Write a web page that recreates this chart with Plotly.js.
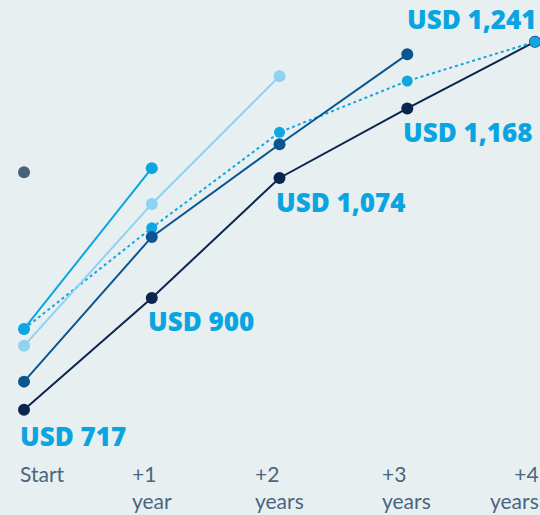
<!DOCTYPE html>
<html>
<head>
<meta charset="utf-8">
<script src="https://cdn.plot.ly/plotly-3.0.1.min.js"></script>
<style>html,body{margin:0;padding:0;background:#e7eff1;}#chart{width:540px;height:515px;}</style>
</head>
<body>
<div id="chart"></div>
<script>
// Categories (period index) and tick labels
const periods = [0, 1, 2, 3, 4];
const tickLabels = ["Start", "+1<br>year", "+2<br>years", "+3<br>years", "+4<br>years"];

// Series values (USD)
const seriesGrey   = [1055];
const seriesBright = [832, 1061];
const seriesLight  = [808, 1010, 1192];
const seriesMedium = [757, 963, 1095, 1223];
const seriesDotted = [832, 976, 1112, 1185, 1241];
const seriesNavy   = [717, 876, 1047, 1146, 1241];

// Labels on the navy series
const navyLabels = ["USD 717", "USD 900", "USD 1,074", "USD 1,168", "USD 1,241"];

const mk = (vals, color, opts = {}) => ({
  x: periods.slice(0, vals.length),
  y: vals,
  type: 'scatter',
  mode: vals.length > 1 ? 'lines+markers' : 'markers',
  line: {color: color, width: 2, dash: opts.dash || 'solid'},
  marker: {color: color, size: opts.size || 12},
  cliponaxis: false,
  hoverinfo: 'skip'
});

const data = [
  mk(seriesNavy, '#0b2550'),
  mk(seriesDotted, '#12a6e0', {dash: 'dot', size: 11}),
  mk(seriesMedium, '#0b5692'),
  mk(seriesLight, '#8ed2f2'),
  mk(seriesBright, '#09a6e2'),
  mk(seriesGrey, '#46637b')
];

const labelFont = {family: '"Open Sans", sans-serif', size: 26, color: '#0aa5e0', weight: 800};
const labelShifts = [
  {xs: -6, ys: -26, xa: 'left'},
  {xs: -6, ys: -23, xa: 'left'},
  {xs: -6, ys: -24, xa: 'left'},
  {xs: -6, ys: -24, xa: 'left'},
  {xs: 4, ys: 23, xa: 'right'}
];
const annotations = navyLabels.map((t, i) => ({
  x: periods[i], y: seriesNavy[i], xref: 'x', yref: 'y',
  text: t, showarrow: false,
  xanchor: labelShifts[i].xa, yanchor: 'middle',
  xshift: labelShifts[i].xs, yshift: labelShifts[i].ys,
  font: labelFont
}));

const tickShifts = [-6, -22, -27, -27, 6];
const tickAnchors = ['left', 'left', 'left', 'left', 'right'];
tickLabels.forEach((t, i) => {
  annotations.push({
    x: periods[i], y: 0.109, xref: 'x', yref: 'paper',
    text: t, showarrow: false, align: tickAnchors[i],
    xanchor: tickAnchors[i], yanchor: 'top',
    xshift: tickShifts[i],
    font: {family: 'Lato, sans-serif', size: 21, color: '#4a6580'}
  });
});

const layout = {
  width: 540, height: 515,
  margin: {l: 0, r: 0, t: 0, b: 0},
  paper_bgcolor: '#e7eff1',
  plot_bgcolor: '#e7eff1',
  showlegend: false,
  xaxis: {range: [-0.188, 4.039], visible: false, fixedrange: true},
  yaxis: {range: [567.1, 1300.4], visible: false, fixedrange: true},
  annotations: annotations
};

Plotly.newPlot('chart', data, layout, {displayModeBar: false, staticPlot: true});
</script>
</body>
</html>
